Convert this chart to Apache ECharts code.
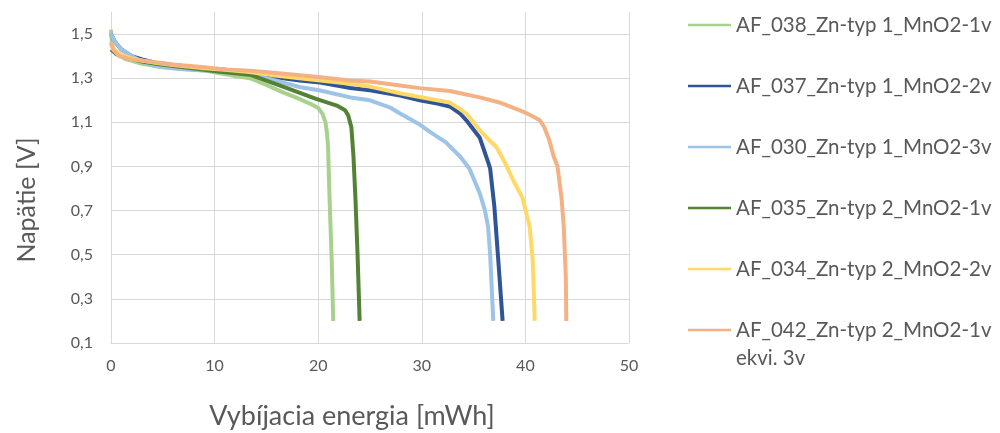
<!DOCTYPE html>
<html>
<head>
<meta charset="utf-8">
<script src="https://cdn.jsdelivr.net/npm/echarts@6/dist/echarts.min.js"></script>
<style>
html, body { margin: 0; padding: 0; background: #fff; }
#chart { width: 1000px; height: 433px; }
</style>
</head>
<body>
<div id="chart"></div>
<script>
// vybijacia energia [mWh] vs napatie [V]
var names = [
  'AF_038_Zn-typ 1_MnO2-1v',
  'AF_037_Zn-typ 1_MnO2-2v',
  'AF_030_Zn-typ 1_MnO2-3v',
  'AF_035_Zn-typ 2_MnO2-1v',
  'AF_034_Zn-typ 2_MnO2-2v',
  'AF_042_Zn-typ 2_MnO2-1v ekvi. 3v'
];
var colors = ['#a9d18e', '#2f5597', '#9dc3e6', '#548235', '#ffd966', '#f4b183'];

var s038 = [[0,1.52],[0.1,1.45],[0.5,1.41],[1.5,1.385],[3,1.365],[5,1.35],[7,1.34],[9,1.335],[10.5,1.322],
  [12,1.31],[13.4,1.30],[15,1.27],[16.6,1.236],[18,1.21],[19.2,1.185],[20,1.165],[20.4,1.14],[20.7,1.10],
  [20.85,1.05],[20.95,0.99],[21.1,0.75],[21.3,0.48],[21.45,0.2]];
var s037 = [[0,1.50],[0.3,1.47],[1,1.43],[2,1.40],[3,1.385],[4.3,1.37],[6,1.36],[9,1.345],[11,1.338],
  [13.4,1.326],[15.4,1.308],[18.2,1.289],[20.2,1.28],[23.1,1.256],[25,1.245],[27.9,1.221],[29.8,1.20],
  [31.5,1.185],[32.7,1.172],[33.7,1.14],[34.3,1.109],[35.6,1.03],[36.4,0.92],[36.6,0.89],[37.0,0.72],
  [37.5,0.40],[37.8,0.2]];
var s030 = [[0,1.50],[0.3,1.47],[1,1.43],[2,1.40],[3,1.375],[4.3,1.355],[6,1.345],[9,1.335],[11,1.328],
  [13.4,1.318],[15.4,1.295],[18.2,1.26],[20.2,1.244],[23.1,1.213],[25,1.20],[26.9,1.168],[27.9,1.14],
  [29.8,1.09],[31,1.05],[32.3,1.01],[33.7,0.945],[34.6,0.89],[35.6,0.778],[36.1,0.70],[36.4,0.626],
  [36.6,0.50],[36.7,0.40],[36.9,0.2]];
var s035 = [[0,1.43],[0.5,1.41],[1.4,1.393],[3,1.375],[4.3,1.365],[6,1.355],[9,1.338],[10.5,1.329],
  [13.4,1.316],[16.6,1.262],[19.8,1.206],[21.8,1.176],[22.6,1.155],[22.9,1.131],[23.2,1.078],[23.4,0.95],
  [23.6,0.75],[23.8,0.5],[24.0,0.2]];
var s034 = [[0,1.46],[0.3,1.43],[1,1.405],[2,1.39],[3,1.38],[4.3,1.37],[6,1.36],[9,1.345],[11,1.338],
  [13.4,1.328],[15.4,1.315],[18.2,1.30],[20.2,1.29],[23.1,1.275],[25,1.262],[27.9,1.232],[29.8,1.215],
  [32.7,1.19],[33.7,1.16],[34.3,1.14],[35.6,1.064],[36.5,1.02],[37.2,0.988],[38,0.92],[38.8,0.84],
  [39.7,0.76],[40.4,0.63],[40.7,0.48],[40.8,0.35],[40.9,0.2]];
var s042 = [[0,1.46],[0.2,1.43],[0.8,1.40],[2,1.385],[4.3,1.372],[6,1.362],[9,1.35],[11,1.34],[13.4,1.334],
  [15.4,1.326],[18,1.315],[20,1.305],[23.1,1.29],[25,1.285],[27.9,1.267],[29.8,1.255],[32.7,1.242],
  [35.6,1.213],[37.5,1.19],[39.7,1.15],[40.6,1.13],[41.4,1.109],[41.8,1.08],[42.3,1.02],[42.7,0.95],
  [43.1,0.9],[43.5,0.75],[43.7,0.63],[43.9,0.4],[43.95,0.2]];
var allData = [s038, s037, s030, s035, s034, s042];

var FONT = 'Lato';
var gridColor = '#d9d9d9';
var txtColor = '#595959';

var myChart = echarts.init(document.getElementById('chart'));

function legendCfg(top, data) {
  return {
    orient: 'vertical',
    left: 688,
    top: top,
    padding: 0,
    itemWidth: 43, itemHeight: 14, itemGap: 33,
    icon: 'path://M0,6L43,6L43,8.5L0,8.5Z',
    textStyle: { color: txtColor, fontSize: 20.5, lineHeight: 28, fontFamily: FONT },
    formatter: function (n) {
      // long name wraps; empty first line keeps the first row level with the icon
      if (n.indexOf(' ekvi.') > -1) {
        return ' \n' + n.replace(' ekvi.', '\nekvi.');
      }
      return n;
    },
    data: data
  };
}

var option = {
  animation: false,
  color: colors,
  textStyle: { fontFamily: FONT },
  grid: { left: 111, right: 371, top: 12, bottom: 90 },
  xAxis: {
    type: 'value',
    min: 0, max: 50, interval: 10,
    axisLine: { show: true, lineStyle: { color: gridColor, width: 1 } },
    axisTick: { show: false },
    splitLine: { show: true, lineStyle: { color: gridColor, width: 1 } },
    axisLabel: { color: txtColor, fontSize: 16, margin: 15, fontFamily: FONT }
  },
  yAxis: {
    type: 'value',
    min: 0.1, max: 1.6, interval: 0.2,
    axisLine: { show: true, lineStyle: { color: gridColor, width: 1 } },
    axisTick: { show: false },
    splitLine: { show: true, showMaxLine: false, lineStyle: { color: gridColor, width: 1 } },
    axisLabel: {
      color: txtColor, fontSize: 16, margin: 18, fontFamily: FONT, showMaxLabel: false,
      formatter: function (v) { return v.toFixed(1).replace('.', ','); }
    }
  },
  legend: [
    legendCfg(11, names.slice(0, 5)),
    legendCfg(288, [names[5]])
  ],
  graphic: [
    {
      type: 'text', x: 27, y: 200, rotation: Math.PI / 2,
      style: { text: 'Napätie [V]', fill: txtColor, font: '25px ' + FONT, align: 'center', verticalAlign: 'middle' }
    },
    {
      type: 'text', x: 352, y: 416,
      style: { text: 'Vybíjacia energia [mWh]', fill: txtColor, font: '27px ' + FONT, align: 'center', verticalAlign: 'middle' }
    }
  ],
  series: names.map(function (n, i) {
    return {
      name: n,
      type: 'line',
      data: allData[i],
      showSymbol: false,
      symbol: 'none',
      lineStyle: { width: 4, color: colors[i] },
      itemStyle: { color: colors[i] }
    };
  })
};
if (option && typeof option === 'object') {
  myChart.setOption(option, true);
}
</script>
</body>
</html>
